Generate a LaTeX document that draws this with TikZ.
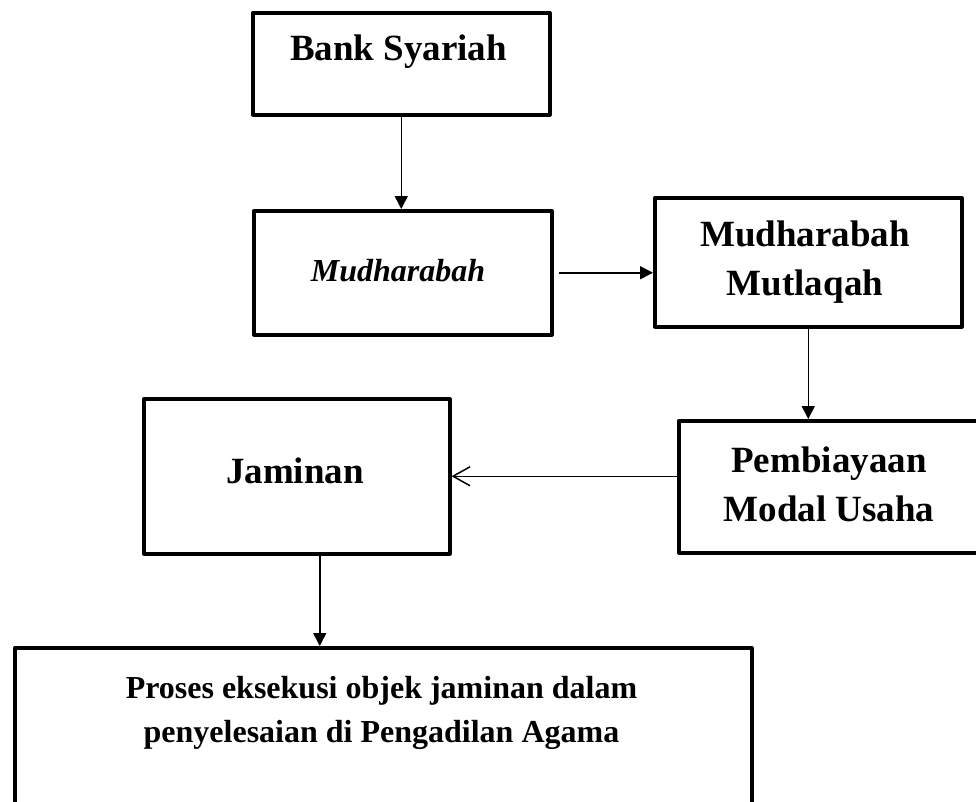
\documentclass[tikz,border=0pt]{standalone}
\usepackage{fontspec}
\setmainfont{Liberation Serif}
\usetikzlibrary{arrows.meta}
\begin{document}
\begin{tikzpicture}[x=1pt,y=-1pt,
  box/.style={draw, line width=3.5pt, line join=round, inner sep=0pt, anchor=north west},
  big/.style={font=\fontsize{37}{49}\selectfont\bfseries, align=center, inner sep=0pt, anchor=base},
  small/.style={font=\fontsize{32}{44}\selectfont\bfseries, align=center, inner sep=0pt, anchor=base},
  conn/.style={line width=1.5pt, -{Triangle[length=13pt,width=13pt]}},
  openconn/.style={line width=1.5pt, -{Straight Barb[length=17pt,width=19pt,line width=1.5pt]}}]
\useasboundingbox (0,0) rectangle (976,801);
\clip (0,0) rectangle (976,801);
% boxes
\node[box, minimum width=297pt, minimum height=102pt] (b1) at (251,11) {};
\node[box, minimum width=298pt, minimum height=124pt] (b2) at (252,209) {};
\node[box, minimum width=307pt, minimum height=129pt] (b3) at (653,196) {};
\node[box, minimum width=306pt, minimum height=155pt] (b4) at (142,397) {};
\node[box, minimum width=304pt, minimum height=132pt] (b5) at (677,419) {};
\node[box, minimum width=737pt, minimum height=180pt] (b6) at (13,646) {};
% texts
\node[big] (t1) at (398.5,60) {Bank Syariah};
\node[small] (t2) at (398,281) {\itshape Mudharabah};
\node[big] (t3) at (805,295) {Mudharabah\\Mutlaqah};
\node[big] (t4) at (295,483) {Jaminan};
\node[big] (t5) at (829,521) {Pembiayaan\\Modal Usaha};
\node[small] (t6) at (381.5,742) {Proses eksekusi objek jaminan dalam\\penyelesaian di Pengadilan Agama};
% connectors
\draw[conn] (b1.south) -- (b1.south |- b2.north);
\draw[conn] ([xshift=5pt]b2.east) -- (b2.east -| b3.west);
\draw[conn] (b3.south) -- (b3.south |- b5.north);
\draw[openconn] (b5.west |- b4.east) -- (b4.east);
\draw[conn] ([xshift=23pt]b4.south) -- ([xshift=23pt]b4.south |- b6.north);
\end{tikzpicture}
\end{document}
